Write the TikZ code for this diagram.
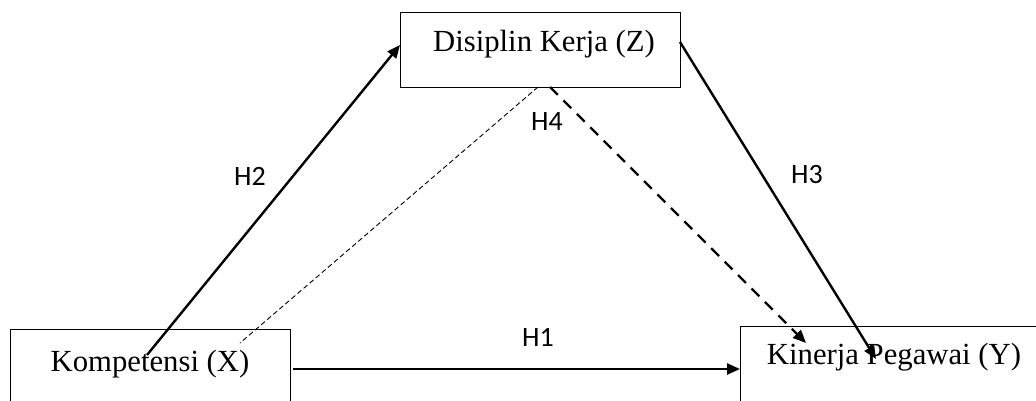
\documentclass[tikz,border=0pt]{standalone}
\usepackage{fontspec}
\setmainfont{Liberation Serif}
\newfontfamily\hfont{Carlito}
\usetikzlibrary{arrows.meta}
\begin{document}
\begin{tikzpicture}[x=1pt,y=-1pt,
  box/.style={draw=black, line width=1pt, rectangle, inner sep=0pt},
  vlabel/.style={font=\fontsize{30.7}{34}\selectfont, inner sep=0pt, anchor=base},
  hlabel/.style={font=\hfont\fontsize{28}{32}\selectfont, inner sep=0pt},
  arr/.style={line width=2.4pt, -{Triangle[length=13pt,width=11pt]}},
  thickdash/.style={line width=2.4pt, dash pattern=on 11pt off 8pt, -{Triangle[length=13pt,width=11pt]}},
  thindash/.style={line width=0.9pt, dash pattern=on 5pt off 3pt}]
\useasboundingbox (0,0) rectangle (1036,400);
% boxes
\node[box, minimum width=280pt, minimum height=75pt] (z) at (540,49.5) {};
\node[box, minimum width=280pt, minimum height=100pt] (x) at (150,379) {};
\node[box, minimum width=340pt, minimum height=100pt] (y) at (910,376) {};
% texts
\node[vlabel] (zt) at (544,51) {Disiplin Kerja (Z)};
\node[vlabel] (xt) at (150,371) {Kompetensi (X)};
\node[vlabel] (yt) at (894,364) {Kinerja Pegawai (Y)};
% connector ends
\coordinate (h2s) at (147,355);
\coordinate (h2e) at (400,45);
\coordinate (h3s) at (680,42);
\coordinate (h3e) at (876,359);
\coordinate (h1s) at (293,369);
\coordinate (h1e) at (740,369);
\coordinate (h4s) at (550,87);
\coordinate (h4e) at (806,343);
\coordinate (t4s) at (538,87);
\coordinate (t4e) at (240,343);
% connectors
\draw[arr] (h2s) -- (h2e);
\draw[arr] (h3s) -- (h3e);
\draw[arr] (h1s) -- (h1e);
\draw[thickdash] (h4s) -- (h4e);
\draw[thindash] (t4s) -- (t4e);
% labels
\node[hlabel] (l2) at (250,176) {H2};
\node[hlabel] (l3) at (807,175) {H3};
\node[hlabel] (l1) at (538,337) {H1};
\node[hlabel] (l4) at (547,122) {H4};
\end{tikzpicture}
\end{document}
